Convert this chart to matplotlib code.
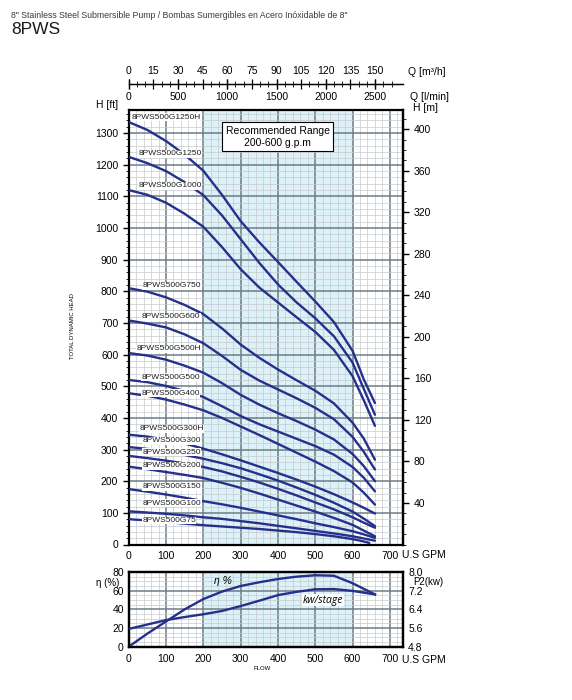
import numpy as np
import matplotlib

matplotlib.use("Agg")
import matplotlib.pyplot as plt
from matplotlib.ticker import MultipleLocator, FixedLocator

plt.rcParams["font.family"] = ["Liberation Sans", "DejaVu Sans"]

# flow points in U.S GPM
flow = [0, 50, 100, 150, 200, 250, 300, 350, 400, 450, 500, 550, 600, 630, 660]
flow_g75 = [0, 50, 100, 150, 200, 250, 300, 350, 400, 450, 500, 550, 600, 625, 645]

# head in ft for every model
h_1250h = [1335, 1310, 1275, 1232, 1181, 1105, 1022, 955, 893, 830, 768, 703, 612, 522, 447]
h_1250 = [1225, 1205, 1180, 1145, 1104, 1040, 965, 890, 822, 765, 715, 658, 575, 492, 410]
h_1000 = [1120, 1105, 1080, 1045, 1004, 940, 870, 812, 765, 718, 672, 615, 532, 456, 375]
h_750 = [810, 799, 781, 757, 728, 683, 632, 590, 553, 519, 486, 446, 385, 335, 268]
h_600 = [708, 698, 686, 664, 636, 596, 552, 518, 490, 462, 432, 396, 340, 293, 237]
h_500h = [605, 597, 584, 565, 543, 510, 473, 442, 415, 390, 363, 332, 286, 248, 200]
h_500 = [520, 513, 501, 485, 466, 437, 406, 380, 357, 334, 311, 284, 245, 211, 168]
h_400 = [478, 470, 458, 442, 424, 400, 373, 346, 318, 290, 262, 232, 196, 164, 126]
h_300h = [347, 341, 331, 319, 303, 285, 266, 246, 226, 205, 183, 159, 133, 116, 98]
h_300 = [308, 302, 293, 283, 271, 257, 241, 222, 202, 180, 157, 132, 104, 82, 58]
h_250 = [280, 273, 265, 256, 245, 231, 214, 196, 176, 155, 133, 111, 86, 69, 53]
h_200 = [246, 238, 229, 220, 210, 195, 179, 161, 142, 123, 104, 84, 62, 44, 26]
h_150 = [175, 167, 158, 148, 137, 127, 116, 104, 92, 80, 67, 55, 42, 32, 21]
h_100 = [105, 101, 97, 92, 86, 81, 74, 67, 59, 51, 43, 35, 26, 19, 12]
h_75 = [80, 76, 71, 66, 61, 57, 53, 49, 44, 39, 33, 26, 17, 11, 5]

models = ["8PWS500G1250H", "8PWS500G1250", "8PWS500G1000", "8PWS500G750",
          "8PWS500G600", "8PWS500G500H", "8PWS500G500", "8PWS500G400",
          "8PWS500G300H", "8PWS500G300", "8PWS500G250", "8PWS500G200",
          "8PWS500G150", "8PWS500G100", "8PWS500G75"]
heads = [h_1250h, h_1250, h_1000, h_750, h_600, h_500h, h_500, h_400,
         h_300h, h_300, h_250, h_200, h_150, h_100, h_75]

# label anchor (gpm, ft)
label_pos = [(8, 1350), (26, 1234), (26, 1133), (37, 818), (35, 720), (21, 618),
             (35, 528), (34, 478), (28, 366), (37, 328), (37, 291), (37, 249),
             (37, 183), (37, 131), (36, 76)]

# efficiency and power per stage
flow_eff = [0, 50, 100, 150, 200, 250, 300, 350, 400, 450, 500, 550, 600, 660]
eta = [0, 14, 27, 40, 51, 59, 65, 69, 72.5, 75, 76.5, 76, 68, 56]
kw_stage = [5.56, 5.75, 5.94, 6.07, 6.19, 6.33, 6.54, 6.77, 7.01, 7.15, 7.26, 7.27, 7.19, 7.04]

navy = "#25308c"
shade = "#dcf1f8"
major_c = "#6e7c86"
minor_c = "#c6cacc"
W, H = 572, 700
left, width = 128.7 / W, 274.6 / W
xmax = 736


def style_grid(ax, xminor, yminor, ymajor):
    ax.xaxis.set_major_locator(MultipleLocator(100))
    ax.xaxis.set_minor_locator(MultipleLocator(xminor))
    ax.yaxis.set_major_locator(MultipleLocator(ymajor))
    ax.yaxis.set_minor_locator(MultipleLocator(yminor))
    ax.grid(which="minor", color=minor_c, lw=0.5, zorder=1)
    ax.grid(which="major", color=major_c, lw=1.1, zorder=1)
    ax.set_axisbelow(True)
    for s in ax.spines.values():
        s.set_linewidth(1.6)
    ax.axvspan(200, 600, color=shade, zorder=0, lw=0)


fig = plt.figure(figsize=(W / 100, H / 100), dpi=100)

fig.text(11 / W, 1 - 15 / H,
         '8" Stainless Steel Submersible Pump / Bombas Sumergibles en Acero Inóxidable de 8"',
         fontsize=6.3, color="#3a3a3a", va="center")
fig.text(11 / W, 1 - 30 / H, "8PWS", fontsize=12.5, color="#1a1a1a", va="center")

# main head chart
ax = fig.add_axes([left, 1 - 544.5 / H, width, 434.5 / H])
ax.set_xlim(0, xmax)
ax.set_ylim(0, 1373)
style_grid(ax, 20, 20, 100)
ax.tick_params(axis="x", which="both", length=0, labelsize=7.5, pad=5)
ax.tick_params(axis="y", which="major", length=4, labelsize=7.5, width=1)
ax.tick_params(axis="y", which="minor", length=2, width=0.6)
ax.set_xticks(range(0, 701, 100))
ax.yaxis.set_major_locator(FixedLocator(range(0, 1301, 100)))

for name, h, (lx, ly) in zip(models, heads, label_pos):
    q = flow_g75 if name.endswith("G75") else flow
    ax.plot(q, h, color=navy, lw=1.7, zorder=3, solid_capstyle="round",
            solid_joinstyle="round")
    ax.text(lx, ly, name, fontsize=6.0, ha="left", va="center", color="#1e1e1e", zorder=4,
            bbox=dict(fc="white", ec="none", pad=0.3))

ax.text(399, 1289, "Recommended Range\n200-600 g.p.m", ha="center", va="center",
        fontsize=7.5, linespacing=1.25, zorder=5,
        bbox=dict(fc="white", ec="black", lw=0.8, boxstyle="square,pad=0.35"))

secm = ax.secondary_yaxis("right", functions=(lambda f: f * 0.3048, lambda m: m / 0.3048))
secm.set_yticks(range(40, 401, 40))
secm.yaxis.set_minor_locator(MultipleLocator(10))
secm.tick_params(which="major", length=4, labelsize=7.5, width=1)
secm.tick_params(which="minor", length=2, width=0.6)
secm.spines["right"].set_linewidth(1.6)

fig.text(96 / W, 1 - 105 / H, "H [ft]", fontsize=7.5, va="center")
fig.text(413 / W, 1 - 108 / H, "H [m]", fontsize=7.5, va="center")
fig.text(402 / W, 1 - 555 / H, "U.S GPM", fontsize=7.5, va="center")
fig.text(73 / W, 1 - 326 / H, "TOTAL DYNAMIC HEAD", fontsize=4.3, rotation=90,
         ha="center", va="center")

# flow scale in m3/h and l/min
axq = fig.add_axes([left, 1 - 84 / H, width, 0.0001])
axq.set_xlim(0, xmax)
axq.set_yticks([])
for s in ["left", "right", "top"]:
    axq.spines[s].set_visible(False)
axq.spines["bottom"].set_linewidth(0.9)
axq.patch.set_visible(False)
m3h = list(range(0, 151, 15))
axq.set_xticks([m / 0.22712 for m in m3h])
axq.set_xticklabels([str(m) for m in m3h])
axq.set_xticks([m / 0.22712 for m in range(0, 161, 5)], minor=True)
axq.tick_params(which="major", top=True, bottom=False, labeltop=True, labelbottom=False,
                direction="inout", length=7, width=0.9, labelsize=7.5, pad=2)
axq.tick_params(which="minor", top=True, bottom=False, direction="inout", length=4, width=0.6)
secq = axq.secondary_xaxis("bottom", functions=(lambda g: g * 3.7854, lambda l: l / 3.7854))
secq.set_xticks(range(0, 2501, 500))
secq.tick_params(direction="inout", length=7, width=0.9, labelsize=7.5, pad=2)
secq.spines["bottom"].set_linewidth(0.9)
fig.text(408 / W, 1 - 72 / H, "Q [m³/h]", fontsize=7.5, va="center")
fig.text(410 / W, 1 - 97 / H, "Q [l/min]", fontsize=7.5, va="center")

# efficiency / power chart
ax2 = fig.add_axes([left, 1 - 646.7 / H, width, 74.7 / H])
ax2.set_xlim(0, xmax)
ax2.set_ylim(0, 80)
style_grid(ax2, 20, 5, 20)
ax2.set_xticks(range(0, 701, 100))
ax2.tick_params(axis="both", which="both", length=0, labelsize=7.5)
ax2.tick_params(axis="x", pad=5)
ax2.plot(flow_eff, eta, color=navy, lw=1.7, zorder=3, solid_joinstyle="round")

ax3 = ax2.twinx()
ax3.set_ylim(4.8, 8.0)
ax3.set_yticks([4.8, 5.6, 6.4, 7.2, 8.0])
ax3.set_yticklabels(["4.8", "5.6", "6.4", "7.2", "8.0"])
ax3.tick_params(length=0, labelsize=7.5)
for s in ax3.spines.values():
    s.set_linewidth(1.6)
ax3.plot(flow_eff, kw_stage, color=navy, lw=1.7, zorder=3, solid_joinstyle="round")

ax2.text(253, 70, "η %", fontsize=7.5, style="italic", ha="center", va="center", zorder=4)
ax3.text(521, 6.8, "kw/stage", fontsize=7.5, style="italic", ha="center", va="center",
         zorder=4, bbox=dict(fc="white", ec="none", pad=0.5),
         family=["Open Sans", "DejaVu Sans"])

fig.text(96 / W, 1 - 583 / H, "η (%)", fontsize=7, va="center")
fig.text(413 / W, 1 - 582 / H, "P2(kw)", fontsize=7, va="center")
fig.text(402 / W, 1 - 660 / H, "U.S GPM", fontsize=7.5, va="center")
fig.text(262 / W, 1 - 668 / H, "FLOW", fontsize=4.3, ha="center", va="center")

fig.savefig("out.png", dpi=100)
